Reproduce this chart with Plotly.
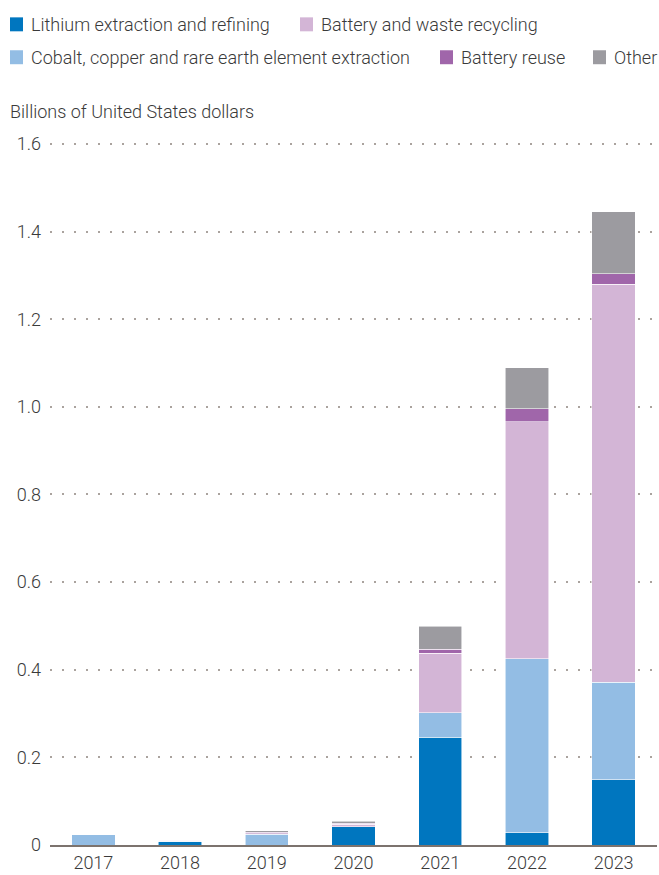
import plotly.graph_objects as go

years = ["2017", "2018", "2019", "2020", "2021", "2022", "2023"]
lithium = [0.0, 0.007, 0.0, 0.042, 0.246, 0.028, 0.149]
cobalt = [0.024, 0.001, 0.024, 0.0, 0.056, 0.397, 0.223]
recycling = [0.0, 0.002, 0.002, 0.005, 0.136, 0.541, 0.908]
reuse = [0.0, 0.001, 0.003, 0.003, 0.009, 0.030, 0.024]
other = [0.0, 0.0, 0.003, 0.004, 0.052, 0.093, 0.141]

series_names = [
    "Lithium extraction and refining",
    "Cobalt, copper and rare earth element extraction",
    "Battery and waste recycling",
    "Battery reuse",
    "Other",
]
series_values = [lithium, cobalt, recycling, reuse, other]
colors = ["#0076BF", "#93BDE4", "#D3B5D6", "#A066AA", "#9C9BA0"]

ytick_vals = [0, 0.2, 0.4, 0.6, 0.8, 1.0, 1.2, 1.4, 1.6]
ytick_text = ["0", "0.2", "0.4", "0.6", "0.8", "1.0", "1.2", "1.4", "1.6"]
y_title = "Billions of United States dollars"

W, H = 659, 875
L, R, T, B = 50, 2, 142, 28
YMAX = 1.6045
FONT = "Roboto, 'Liberation Sans', sans-serif"
TXT = "#3a3a3a"
WT = 300


def px_x(px):
    return (px - L) / (W - L - R)


def px_y(py):
    return (H - B - py) / (H - T - B)


fig = go.Figure()
for name, vals, col in zip(series_names, series_values, colors):
    fig.add_trace(go.Bar(
        x=years, y=vals, name=name,
        marker=dict(color=col, line=dict(color="rgba(255,255,255,0.7)", width=0.8)),
        showlegend=False,
    ))

# manual legend (flow layout as in reference)
legend_items = [
    (series_names[0], colors[0], 10, 24),
    (series_names[2], colors[2], 300, 24),
    (series_names[1], colors[1], 10, 57),
    (series_names[3], colors[3], 440, 57),
    (series_names[4], colors[4], 593, 57),
]
shapes = []
annotations = []
for name, col, x0, yc in legend_items:
    shapes.append(dict(
        type="rect", xref="paper", yref="paper",
        x0=px_x(x0), x1=px_x(x0 + 13), y0=px_y(yc + 7), y1=px_y(yc - 7),
        fillcolor=col, line=dict(width=0),
    ))
    annotations.append(dict(
        text=name, xref="paper", yref="paper", x=px_x(x0 + 19), y=px_y(yc),
        xanchor="left", yanchor="middle", showarrow=False,
        font=dict(family=FONT, size=18, color=TXT, weight=WT),
    ))
annotations.append(dict(
    text=y_title, xref="paper", yref="paper", x=px_x(8), y=px_y(111),
    xanchor="left", yanchor="middle", showarrow=False,
    font=dict(family=FONT, size=18, color=TXT, weight=WT),
))

fig.update_layout(
    width=W, height=H,
    margin=dict(l=L, r=R, t=T, b=B, pad=0),
    paper_bgcolor="white", plot_bgcolor="white",
    barmode="stack", bargap=0.5,
    font=dict(family=FONT, size=18, color=TXT, weight=WT),
    shapes=shapes, annotations=annotations,
    xaxis=dict(
        type="category", showgrid=False, ticks="",
        showline=True, linecolor="#7c736e", linewidth=2,
        tickfont=dict(family=FONT, size=18, color=TXT, weight=WT),
    ),
    yaxis=dict(
        range=[0, YMAX], tickvals=ytick_vals, ticktext=ytick_text,
        showgrid=True, gridcolor="#aaa39e", gridwidth=2, griddash="2px,10px",
        zeroline=False, ticks="", ticklabelstandoff=8,
        tickfont=dict(family=FONT, size=18, color=TXT, weight=WT),
    ),
)

fig.write_html(
    "out.html",
    config={"displayModeBar": False},
    post_script="document.body.style.margin='0';document.body.style.overflow='hidden';",
)
